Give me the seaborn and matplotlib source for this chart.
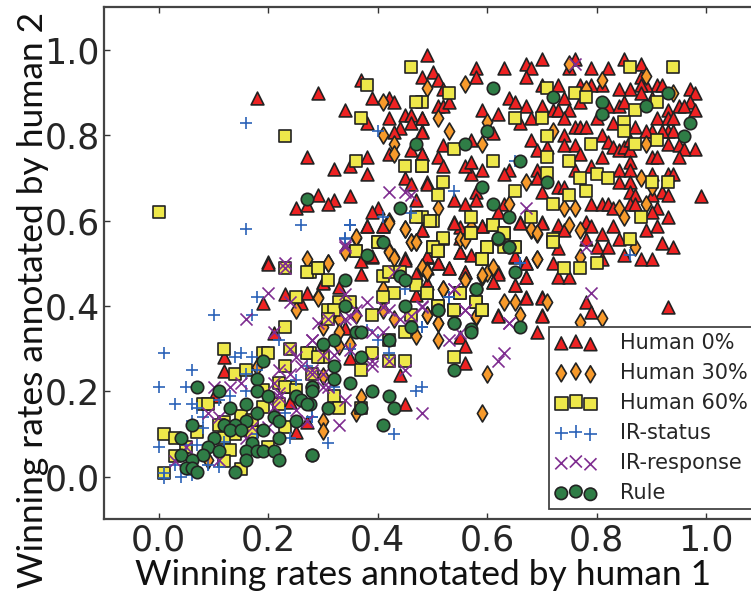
import pandas as pd
import matplotlib
matplotlib.use('Agg')
import matplotlib.pyplot as plt
import seaborn as sns

sns.set_style('ticks')
plt.rcParams['font.family'] = ['DejaVu Sans']

# (human 1, human 2) winning rates
human_0 = [(.49,.988),(.58,.958),(.58,.937),(.63,.958),(.67,.968),(.68,.958),(.70,.978),(.67,.937),(.75,.957),(.76,.978),
    (.79,.958),(.82,.958),(.85,.978),(.88,.968),(.50,.949),(.48,.937),(.51,.93),(.88,.937),(.91,.918),(.92,.918),
    (.89,.918),(.88,.918),(.86,.908),(.84,.908),(.81,.918),(.79,.918),(.77,.918),(.73,.918),(.70,.918),(.97,.908),
    (.98,.898),(.64,.888),(.65,.879),(.67,.869),(.70,.869),(.74,.888),(.77,.879),(.72,.859),(.73,.859),(.75,.859),
    (.81,.859),(.82,.869),(.84,.869),(.85,.879),(.88,.898),(.90,.888),(.93,.859),(.95,.869),(.97,.879),(.98,.859),
    (.96,.869),(.59,.859),(.62,.849),(.68,.84),(.66,.83),(.74,.84),(.80,.84),(.83,.83),(.91,.84),(.93,.84),
    (.94,.84),(.93,.81),(.90,.81),(.89,.81),(.94,.81),(.92,.81),(.76,.82),(.77,.82),(.78,.82),(.87,.82),
    (.81,.80),(.74,.80),(.68,.79),(.61,.805),(.57,.79),(.52,.777),(.48,.81),(.48,.84),(.51,.869),(.52,.869),
    (.53,.879),(.52,.908),(.69,.765),(.71,.773),(.74,.777),(.76,.777),(.82,.785),(.83,.773),(.84,.765),(.85,.773),
    (.86,.765),(.86,.79),(.93,.78),(.95,.777),(.98,.767),(.96,.767),(.77,.757),(.81,.748),(.86,.737),(.90,.748),
    (.91,.748),(.95,.748),(.79,.729),(.84,.719),(.86,.719),(.76,.719),(.69,.719),(.69,.699),(.64,.719),(.63,.709),
    (.59,.719),(.57,.709),(.56,.729),(.57,.737),(.51,.748),(.52,.729),(.48,.757),(.49,.69),(.84,.69),(.86,.69),
    (.90,.709),(.93,.709),(.94,.709),(.92,.668),(.93,.66),(.90,.66),(.86,.668),(.87,.66),(.99,.658),(.73,.68),
    (.70,.668),(.74,.68),(.54,.648),(.56,.639),(.58,.668),(.58,.648),(.79,.639),(.81,.639),(.82,.639),(.83,.629),
    (.86,.639),(.87,.639),(.91,.629),(.90,.62),(.93,.609),(.89,.578),(.91,.587),(.83,.587),(.66,.597),(.70,.597),
    (.63,.64),(.62,.62),(.54,.597),(.55,.586),(.59,.587),(.73,.59),(.74,.578),(.78,.597),(.79,.587),(.81,.568),
    (.78,.558),(.84,.558),(.80,.539),(.82,.539),(.92,.548),(.94,.539),(.73,.537),(.85,.519),(.88,.509),(.90,.509),
    (.81,.509),(.72,.50),(.55,.527),(.57,.519),(.49,.515),(.51,.50),(.53,.488),(.56,.48),(.62,.48),(.61,.457),
    (.67,.469),(.67,.50),(.65,.515),(.65,.449),(.73,.469),(.75,.469),(.67,.42),(.70,.42),(.78,.41),(.79,.386),
    (.93,.398),(.62,.379),(.70,.379),(.37,.93),(.18,.888),(.29,.898),(.34,.859),(.39,.888),(.42,.888),(.43,.879),
    (.38,.83),(.42,.84),(.45,.848),(.46,.848),(.48,.84),(.46,.828),(.44,.818),(.43,.808),(.48,.808),(.46,.765),
    (.42,.757),(.48,.757),(.38,.75),(.27,.75),(.32,.72),(.35,.727),(.38,.709),(.45,.699),(.46,.687),(.49,.687),
    (.29,.66),(.32,.648),(.31,.639),(.35,.658),(.25,.629),(.27,.637),(.47,.648),(.40,.629),(.39,.62),(.38,.587),
    (.41,.587),(.48,.578),(.45,.512),(.49,.515),(.39,.515),(.20,.504),(.38,.587),(.41,.587),(.48,.578),(.54,.594),
    (.55,.559),(.55,.527),(.59,.587),(.66,.594),(.70,.594),(.65,.516),(.67,.50),(.67,.469),(.65,.449),(.49,.517),
    (.45,.508),(.37,.506),(.37,.476),(.39,.516),(.51,.50),(.49,.488),(.53,.488),(.47,.476),(.56,.48),(.62,.476),
    (.61,.457),(.49,.453),(.33,.445),(.30,.457),(.34,.348),(.47,.426),(.67,.418),(.70,.418),(.62,.377),(.70,.377),
    (.69,.338),(.55,.327),(.56,.306),(.56,.267),(.35,.277),(.44,.238),(.45,.17),(.20,.498),(.23,.428),(.27,.43),
    (.19,.408),(.26,.408),(.21,.337),(.12,.248),(.12,.28),(.24,.175),(.27,.127),(.25,.105),(.10,.19),(.30,.453)]

human_30 = [(.49,.91),(.56,.92),(.51,.84),(.53,.81),(.59,.78),(.60,.832),(.72,.81),(.75,.968),(.81,.93),(.89,.939),
    (.94,.898),(.78,.908),(.89,.78),(.88,.699),(.90,.68),(.67,.69),(.64,.64),(.51,.629),(.74,.629),(.76,.629),
    (.84,.629),(.85,.609),(.89,.639),(.68,.578),(.69,.568),(.75,.59),(.77,.578),(.87,.539),(.77,.515),(.69,.509),
    (.59,.469),(.60,.478),(.61,.488),(.56,.46),(.48,.488),(.49,.478),(.52,.439),(.63,.41),(.65,.41),(.71,.41),
    (.66,.379),(.77,.363),(.81,.371),(.58,.375),(.49,.379),(.51,.361),(.55,.558),(.57,.586),(.56,.555),(.41,.879),
    (.41,.80),(.43,.78),(.43,.757),(.42,.60),(.45,.58),(.46,.55),(.47,.55),(.36,.56),(.34,.53),(.42,.53),
    (.43,.515),(.27,.51),(.31,.50),(.36,.562),(.34,.527),(.31,.50),(.42,.595),(.45,.58),(.46,.551),(.47,.551),
    (.42,.527),(.43,.512),(.48,.492),(.49,.48),(.59,.473),(.61,.492),(.56,.461),(.52,.44),(.29,.42),(.41,.44),
    (.69,.51),(.68,.58),(.69,.57),(.49,.38),(.51,.36),(.58,.376),(.43,.37),(.41,.39),(.36,.38),(.33,.37),
    (.30,.35),(.33,.34),(.35,.31),(.33,.306),(.47,.33),(.51,.32),(.30,.235),(.60,.24),(.59,.15),(.37,.187),
    (.36,.148),(.30,.13),(.30,.108),(.25,.39),(.29,.418),(.18,.257),(.09,.039),(.05,.07)]

human_60 = [(.53,.898),(.65,.84),(.70,.84),(.71,.91),(.76,.898),(.78,.889),(.86,.959),(.94,.959),(.91,.879),(.87,.859),
    (.85,.832),(.85,.81),(.87,.78),(.91,.789),(.79,.78),(.71,.799),(.71,.75),(.75,.739),(.61,.739),(.54,.769),
    (.48,.729),(.71,.711),(.77,.699),(.80,.709),(.82,.699),(.90,.69),(.93,.69),(.52,.69),(.65,.67),(.78,.67),
    (.75,.66),(.72,.639),(.51,.66),(.50,.60),(.57,.609),(.88,.609),(.68,.609),(.61,.59),(.57,.57),(.63,.57),
    (.52,.558),(.72,.558),(.72,.549),(.86,.558),(.50,.539),(.51,.53),(.60,.539),(.63,.539),(.65,.539),(.59,.509),
    (.74,.49),(.77,.49),(.80,.50),(.49,.43),(.55,.43),(.58,.41),(.59,.39),(.54,.39),(.51,.40),(.48,.879),
    (.48,.609),(.46,.959),(.38,.919),(.47,.879),(.37,.84),(.23,.799),(.45,.729),(.48,.729),(.36,.739),(.00,.62),
    (.47,.609),(.40,.55),(.36,.53),(.495,.60),(.36,.53),(.40,.55),(.52,.559),(.50,.539),(.51,.53),(.57,.57),
    (.61,.59),(.63,.57),(.60,.539),(.59,.51),(.65,.539),(.29,.49),(.31,.46),(.276,.48),(.41,.47),(.42,.48),
    (.44,.48),(.43,.43),(.47,.45),(.49,.43),(.55,.43),(.58,.41),(.59,.39),(.54,.39),(.51,.40),(.39,.38),
    (.41,.42),(.33,.41),(.35,.41),(.31,.39),(.32,.39),(.46,.38),(.31,.37),(.45,.34),(.42,.32),(.39,.29),
    (.54,.28),(.42,.27),(.45,.27),(.37,.25),(.32,.19),(.33,.16),(.37,.16),(.30,.28),(.276,.29),(.28,.24),
    (.23,.49),(.27,.48),(.29,.488),(.25,.42),(.23,.35),(.12,.30),(.19,.29),(.20,.29),(.24,.30),(.27,.29),
    (.29,.28),(.23,.26),(.14,.24),(.16,.25),(.22,.22),(.24,.21),(.23,.21),(.25,.203),(.19,.203),(.08,.17),
    (.09,.17),(.22,.17),(.19,.164),(.12,.127),(.15,.143),(.11,.12),(.07,.105),(.01,.10),(.03,.09),(.17,.105),
    (.14,.101),(.12,.09),(.13,.062),(.20,.07),(.03,.048),(.12,.037),(.15,.019),(.01,.009),(.17,.132),(.23,.117),
    (.05,.07)]

ir_status = [(.16,.83),(.40,.81),(.16,.58),(.26,.59),(.35,.59),(.41,.609),(.46,.619),(.34,.558),(.54,.67),(.65,.739),
    (.86,.519),(.66,.50),(.53,.42),(.48,.35),(.35,.59),(.34,.559),(.66,.50),(.45,.44),(.53,.42),(.38,.344),
    (.48,.35),(.40,.32),(.35,.30),(.42,.29),(.48,.21),(.47,.20),(.32,.21),(.28,.14),(.43,.10),(.31,.08),
    (.18,.42),(.17,.38),(.10,.38),(.22,.32),(.01,.29),(.15,.29),(.14,.28),(.17,.28),(.06,.25),(.18,.25),
    (.16,.24),(.00,.21),(.05,.21),(.03,.17),(.06,.17),(.13,.19),(.16,.20),(.07,.16),(.08,.14),(.06,.13),
    (.11,.18),(.08,.113),(.00,.07),(.05,.074),(.07,.074),(.12,.082),(.24,.09),(.25,.226),(.27,.26),(.28,.14),
    (.23,.148),(.18,.10),(.09,.027),(.11,.023),(.04,.00),(.03,.027),(.01,.009),(.01,-.004),(.06,.004)]

ir_response = [(.76,.968),(.67,.629),(.78,.539),(.79,.43),(.54,.439),(.56,.39),(.64,.359),(.48,.398),(.42,.668),(.45,.668),
    (.46,.66),(.34,.539),(.23,.50),(.34,.543),(.43,.48),(.54,.44),(.34,.428),(.38,.41),(.36,.39),(.41,.397),
    (.42,.39),(.48,.40),(.46,.376),(.56,.39),(.64,.36),(.44,.37),(.29,.36),(.31,.37),(.34,.37),(.35,.375),
    (.39,.34),(.41,.34),(.53,.32),(.55,.336),(.63,.29),(.62,.27),(.45,.25),(.39,.27),(.39,.26),(.42,.27),
    (.35,.297),(.32,.285),(.30,.285),(.48,.15),(.33,.12),(.34,.18),(.30,.21),(.31,.21),(.30,.24),(.28,.25),
    (.28,.32),(.20,.43),(.24,.41),(.16,.37),(.21,.34),(.28,.32),(.24,.30),(.26,.26),(.25,.28),(.22,.25),
    (.24,.24),(.21,.22),(.28,.24),(.10,.21),(.13,.21),(.15,.22),(.23,.49),(.09,.15),(.25,.156),(.22,.195),
    (.20,.117),(.17,.117),(.16,.09),(.05,.07),(.03,.037),(.11,.039),(.22,.187),(.21,.164),(.11,.14),(.27,.13)]

rule = [(.61,.91),(.72,.889),(.81,.879),(.81,.849),(.89,.869),(.93,.898),(.97,.83),(.96,.799),(.60,.81),(.56,.78),
    (.66,.739),(.59,.68),(.71,.69),(.61,.639),(.64,.609),(.62,.558),(.64,.539),(.65,.48),(.58,.439),(.51,.39),
    (.54,.36),(.57,.345),(.66,.35),(.47,.78),(.27,.65),(.44,.629),(.41,.55),(.38,.52),(.62,.559),(.64,.539),
    (.44,.47),(.45,.46),(.34,.46),(.58,.44),(.34,.40),(.45,.40),(.51,.39),(.54,.36),(.46,.35),(.57,.34),
    (.36,.34),(.37,.34),(.42,.32),(.32,.32),(.30,.31),(.37,.28),(.32,.26),(.32,.23),(.54,.25),(.35,.22),
    (.39,.20),(.42,.19),(.43,.16),(.37,.16),(.31,.16),(.41,.12),(.28,.21),(.28,.05),(.276,.17),(.19,.27),
    (.18,.23),(.07,.21),(.11,.20),(.18,.20),(.20,.19),(.25,.19),(.28,.21),(.28,.20),(.26,.18),(.27,.17),
    (.13,.16),(.16,.17),(.18,.15),(.21,.14),(.22,.13),(.25,.13),(.16,.13),(.06,.12),(.12,.12),(.14,.12),
    (.13,.11),(.15,.11),(.19,.11),(.22,.09),(.10,.09),(.04,.09),(.17,.08),(.09,.07),(.16,.06),(.18,.06),
    (.19,.06),(.11,.06),(.21,.06),(.28,.05),(.04,.05),(.08,.05),(.06,.04),(.16,.04),(.22,.04),(.05,.02),
    (.06,.02),(.07,.01),(.14,.01)]

ticks = [0.0, 0.2, 0.4, 0.6, 0.8, 1.0]
text_color = '#262626'
edge = '#222222'

W, H = 751, 595
fig = plt.figure(figsize=(W / 100, H / 100), dpi=100)
# the axes run a little past the right edge of the figure, like the original
ax = fig.add_axes([104 / W, (H - 519.3) / H, 657 / W, 512 / H])


def draw(points, label, marker, color, size):
    df = pd.DataFrame(points, columns=['human1', 'human2'])
    if marker in ('+', 'x'):
        sns.scatterplot(data=df, x='human1', y='human2', ax=ax, marker=marker, s=size, color=color,
                        linewidth=1.2, label=label, legend=False)
    else:
        sns.scatterplot(data=df, x='human1', y='human2', ax=ax, marker=marker, s=size, color=color,
                        edgecolor=edge, linewidth=1.2, label=label, legend=False)


draw(human_0, 'Human 0%', '^', '#ee2222', 85)
draw(human_30, 'Human 30%', 'd', '#f79a2b', 75)
draw(human_60, 'Human 60%', 's', '#eee84a', 80)
draw(ir_status, 'IR-status', '+', '#2b62b8', 85)
draw(ir_response, 'IR-response', 'x', '#7f2d90', 75)
draw(rule, 'Rule', 'o', '#2f7d46', 80)

ax.set_xlim(-0.1, 1.1)
ax.set_ylim(-0.1, 1.1)
ax.set_xticks(ticks)
ax.set_yticks(ticks)
ax.tick_params(direction='in', top=True, right=True, length=4.5, width=1.0, color='#333333',
               labelsize=25, labelcolor=text_color)
ax.tick_params(axis='x', pad=3)
ax.tick_params(axis='y', pad=3)
for side in ax.spines.values():
    side.set_linewidth(1.6)
    side.set_color('#444444')

# only the two axis titles use the narrower face
ax.set_xlabel('Winning rates annotated by human 1', fontsize=25.5, family=['Lato'], color='#111111')
ax.set_ylabel('Winning rates annotated by human 2', fontsize=25.5, family=['Lato'], color='#111111')
ax.xaxis.label.set_va('baseline')
ax.yaxis.label.set_va('baseline')
ax.xaxis.set_label_coords(0.4855, -0.128)
ax.yaxis.set_label_coords(-0.093, 0.428)

leg = ax.legend(scatterpoints=3, loc='lower left', bbox_to_anchor=(0.677, 0.02), borderaxespad=0,
                prop={'family': 'DejaVu Sans', 'size': 15}, frameon=True, fancybox=False, framealpha=1,
                edgecolor='#444444', labelspacing=0.48, handletextpad=1.1, borderpad=0.3)
leg.get_frame().set_linewidth(1.3)
for t in leg.get_texts():
    t.set_color(text_color)
for t in ax.get_xticklabels() + ax.get_yticklabels():
    t.set_family('DejaVu Sans')

fig.savefig('out.png', dpi=100)
